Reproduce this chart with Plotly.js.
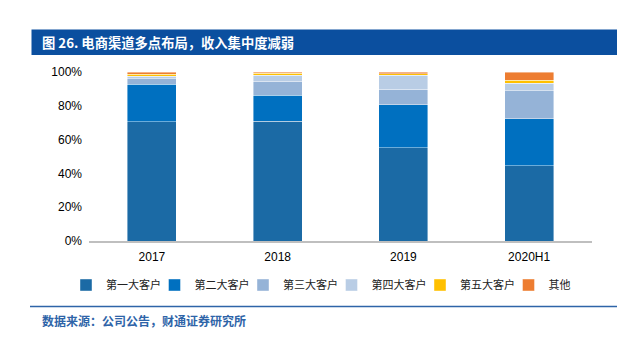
<!DOCTYPE html>
<html>
<head>
<meta charset="utf-8">
<script src="https://cdn.plot.ly/plotly-3.0.1.min.js"></script>
<style>html,body{margin:0;padding:0;background:#fff;}#chart{width:639px;height:341px;}</style>
</head>
<body>
<div id="chart"></div>
<script>
const categories = ['2017', '2018', '2019', '2020H1'];
const seriesNames = ['第一大客户', '第二大客户', '第三大客户', '第四大客户', '第五大客户', '其他'];
const first  = [70.5, 70.8, 55.1, 44.5];
const second = [22.2, 15.4, 25.4, 27.9];
const third  = [3.3, 8.3, 9.2, 16.6];
const fourth = [1.5, 3.7, 8.3, 4.3];
const fifth  = [1.3, 1.2, 1.0, 1.7];
const other  = [1.2, 0.6, 1.0, 5.0];
const yTicks = [0, 20, 40, 60, 80, 100];
const yTickLabels = ['0%', '20%', '40%', '60%', '80%', '100%'];
const titleText = '图 26. 电商渠道多点布局，收入集中度减弱';
const sourceText = '数据来源：公司公告，财通证券研究所';

const colors = ['#1B6AA5', '#0070C0', '#95B3D7', '#B9CDE5', '#FFC000', '#ED7D31'];
const series = [first, second, third, fourth, fifth, other];

const W = 639, H = 341;
const L = 89, R = 592, T = 72, B = 241;
const px = x => (x - L) / (R - L);
const py = y => (B - y) / (B - T);

const traces = series.map((vals, i) => ({
  type: 'bar',
  name: seriesNames[i],
  x: categories,
  y: vals,
  marker: {color: colors[i], line: {color: 'rgba(255,255,255,0.6)', width: 0.7}},
  hoverinfo: 'skip'
}));

const layout = {
  width: W, height: H,
  margin: {l: L, r: W - R, t: T, b: H - B, pad: 0},
  barmode: 'stack',
  bargap: 0.61,
  paper_bgcolor: '#fff', plot_bgcolor: '#fff',
  font: {family: 'Arial, "Liberation Sans", "Noto Sans CJK SC", sans-serif', size: 12, color: '#000'},
  showlegend: true,
  legend: {
    orientation: 'h', x: px(66), xanchor: 'left', y: py(285), yanchor: 'middle',
    font: {family: '"Noto Sans CJK SC", sans-serif', size: 11, color: '#222'},
    entrywidth: 43.5, entrywidthmode: 'pixels', traceorder: 'normal',
    itemwidth: 30, bgcolor: 'rgba(0,0,0,0)'
  },
  xaxis: {
    type: 'category', showgrid: false, zeroline: false,
    showline: true, linecolor: '#BFBFBF', linewidth: 1.5,
    ticks: '', tickfont: {size: 12, color: '#000'}, ticklabelstandoff: 4
  },
  yaxis: {
    range: [0, 100], tickmode: 'array', tickvals: yTicks, ticktext: yTickLabels,
    showgrid: false, zeroline: false, showline: false, ticks: '',
    tickfont: {size: 12, color: '#000'}, ticklabelstandoff: 6
  },
  shapes: [
    {type: 'rect', xref: 'paper', yref: 'paper', x0: px(31.5), x1: px(617), y0: py(29.5), y1: py(55),
     fillcolor: '#0B4F9F', line: {width: 0}, layer: 'above'},
    {type: 'line', xref: 'paper', yref: 'paper', x0: px(30), x1: px(617), y0: py(306.5), y1: py(306.5),
     line: {color: '#2E64A8', width: 1.5}}
  ],
  annotations: [
    {xref: 'paper', yref: 'paper', x: px(40), y: py(42.5), xanchor: 'left', yanchor: 'middle',
     text: '<b>' + titleText + '</b>', showarrow: false,
     font: {family: '"Noto Sans CJK SC", sans-serif', size: 13.3, color: '#fff'}},
    {xref: 'paper', yref: 'paper', x: px(40), y: py(320), xanchor: 'left', yanchor: 'middle',
     text: '<b>' + sourceText + '</b>', showarrow: false,
     font: {family: '"Noto Sans CJK SC", sans-serif', size: 12, color: '#2E64A8'}}
  ]
};

Plotly.newPlot('chart', traces, layout, {displayModeBar: false, staticPlot: true});
</script>
</body>
</html>
